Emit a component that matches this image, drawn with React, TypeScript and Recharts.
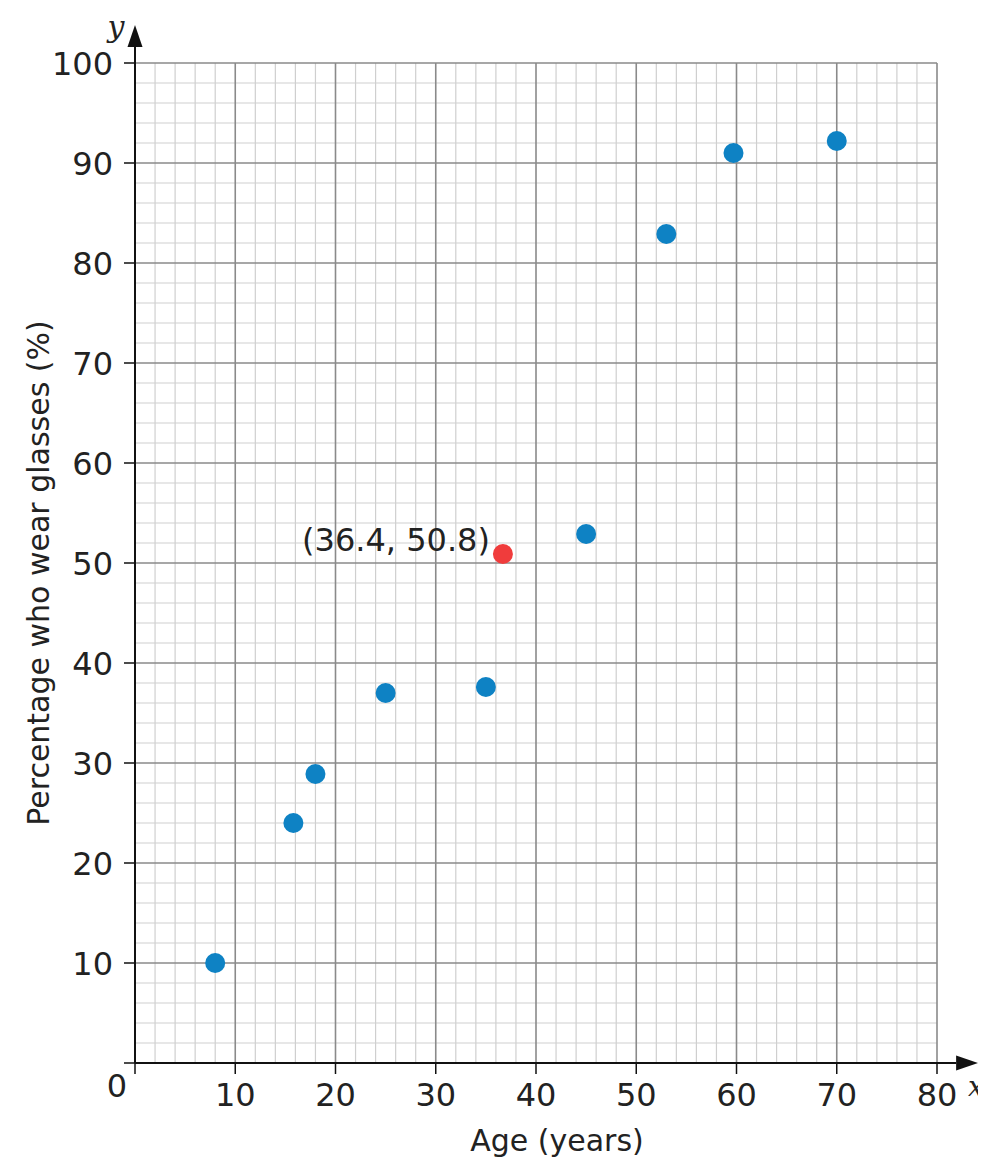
import React from 'react';
import { ScatterChart, Scatter, XAxis, YAxis, ReferenceLine, LabelList, Label } from 'recharts';

// values
const ages = [8, 15.8, 18, 25, 35, 45, 53, 59.7, 70];
const percentages = [10, 24, 28.9, 37, 37.6, 52.9, 82.9, 91, 92.2];
const meanAge = [36.7];
const meanPercentage = [50.9];
const meanLabel = '(36.4, 50.8)';

const xTicks = [0, 10, 20, 30, 40, 50, 60, 70, 80];
const yTicks = [0, 10, 20, 30, 40, 50, 60, 70, 80, 90, 100];
const X_ARROW_END = 84.1;
const Y_ARROW_END = 103.8;

const FONT = '"DejaVu Sans", sans-serif';
const SERIF = '"DejaVu Serif", serif';
const TEXT = '#222';
const BLUE = '#0e82c4';
const RED = '#f03c3c';

// minor grid every 2 units, skipping the major lines
const minorX = Array.from({ length: 40 }, (_, i) => i * 2).filter((v) => v > 0 && v % 10 !== 0);
const minorY = Array.from({ length: 50 }, (_, i) => i * 2).filter((v) => v > 0 && v % 10 !== 0);

const points = ages.map((a, i) => ({ x: a, y: percentages[i] }));
const meanPoints = meanAge.map((a, i) => ({ x: a, y: meanPercentage[i], label: meanLabel }));

const Dot = (color: string) => (props: any) => <circle cx={props.cx} cy={props.cy} r={10} fill={color} />;

const Arrow = (props: any) => {
  const { x1, y1, x2, y2 } = props;
  const len = Math.hypot(x2 - x1, y2 - y1) || 1;
  const ux = (x2 - x1) / len;
  const uy = (y2 - y1) / len;
  const bx = x2 - ux * 22;
  const by = y2 - uy * 22;
  const px = -uy * 7.5;
  const py = ux * 7.5;
  return (
    <g>
      <line x1={x1} y1={y1} x2={bx} y2={by} stroke="#111" strokeWidth={2} />
      <polygon points={`${x2},${y2} ${bx + px},${by + py} ${bx - px},${by - py}`} fill="#111" />
    </g>
  );
};

const XTick = ({ x, y, payload }: any) => {
  if (payload.value === 0) {
    return (
      <text x={x - 18} y={y - 9} dy="0.71em" textAnchor="middle" fontSize={32} fontFamily={FONT} fill={TEXT}>
        0
      </text>
    );
  }
  return (
    <text x={x} y={y} dy="0.71em" textAnchor="middle" fontSize={32} fontFamily={FONT} fill={TEXT}>
      {payload.value}
    </text>
  );
};

const YTick = ({ x, y, payload }: any) => {
  if (payload.value === 0) return null;
  return (
    <text x={x} y={y} dy="0.36em" textAnchor="end" fontSize={32} fontFamily={FONT} fill={TEXT}>
      {payload.value}
    </text>
  );
};

const MeanLabel = (props: any) => {
  const { x, y, width, height, value } = props;
  const cx = x + (width || 0) / 2;
  const cy = y + (height || 0) / 2;
  return (
    <text x={cx - 13} y={cy - 15} dy="0.36em" textAnchor="end" fontSize={32} fontFamily={FONT} fill={TEXT}>
      {value}
    </text>
  );
};

export default function App() {
  return (
    <ScatterChart width={978} height={1150} margin={{ top: 55, right: 49, bottom: 35, left: 47 }}>
      <XAxis
        type="number"
        dataKey="x"
        domain={[0, 80]}
        ticks={xTicks}
        interval={0}
        axisLine={false}
        tickSize={11}
        tickMargin={9}
        tickLine={{ stroke: '#111', strokeWidth: 1.5 }}
        tick={<XTick />}
        height={60}
      >
        <Label value="Age (years)" position="insideBottom" offset={-28} dx={21} fontSize={30} fontFamily={FONT} fill={TEXT} />
      </XAxis>
      <YAxis
        type="number"
        dataKey="y"
        domain={[0, 100]}
        ticks={yTicks}
        interval={0}
        axisLine={false}
        tickSize={11}
        tickMargin={11}
        tickLine={{ stroke: '#111', strokeWidth: 1.5 }}
        tick={<YTick />}
        width={80}
      >
        <Label
          value="Percentage who wear glasses (%)"
          angle={-90}
          position="insideLeft"
          offset={-17}
          dy={10}
          style={{ textAnchor: 'middle' }}
          fontSize={30}
          fontFamily={FONT}
          fill={TEXT}
        />
      </YAxis>

      {minorX.map((v) => (
        <ReferenceLine key={`mx${v}`} x={v} stroke="#cfcfcf" strokeWidth={1.2} />
      ))}
      {minorY.map((v) => (
        <ReferenceLine key={`my${v}`} y={v} stroke="#cfcfcf" strokeWidth={1.2} />
      ))}
      {xTicks.filter((v) => v > 0).map((v) => (
        <ReferenceLine key={`Mx${v}`} x={v} stroke="#8a8a8a" strokeWidth={1.6} />
      ))}
      {yTicks.filter((v) => v > 0).map((v) => (
        <ReferenceLine key={`My${v}`} y={v} stroke="#8a8a8a" strokeWidth={1.6} />
      ))}

      <ReferenceLine segment={[{ x: 0, y: 0 }, { x: X_ARROW_END, y: 0 }]} ifOverflow="visible" shape={Arrow} />
      <ReferenceLine segment={[{ x: 0, y: 0 }, { x: 0, y: Y_ARROW_END }]} ifOverflow="visible" shape={Arrow} />

      <Scatter data={points} shape={Dot(BLUE)} isAnimationActive={false} />
      <Scatter data={meanPoints} shape={Dot(RED)} isAnimationActive={false}>
        <LabelList dataKey="label" content={<MeanLabel />} />
      </Scatter>

      <text x={108} y={18} dy="0.36em" textAnchor="middle" fontSize={30} fontStyle="italic" fontFamily={SERIF} fill={TEXT}>
        y
      </text>
      <text x={968} y={1078} dy="0.36em" textAnchor="middle" fontSize={28} fontStyle="italic" fontFamily={SERIF} fill={TEXT}>
        x
      </text>
    </ScatterChart>
  );
}
